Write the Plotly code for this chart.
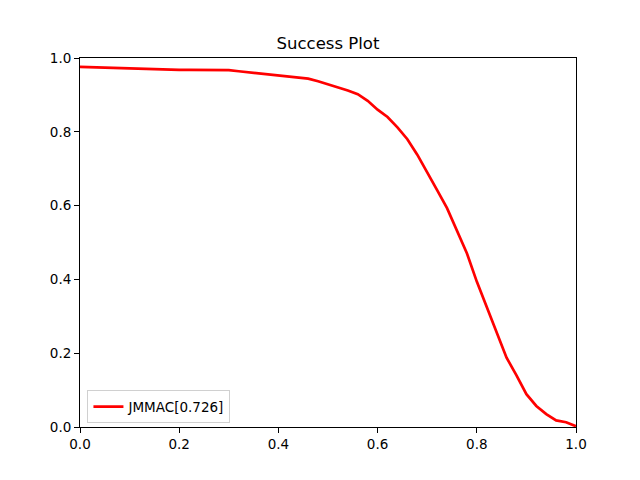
import plotly.graph_objects as go

# overlap threshold and success rate
thresholds = [i / 50 for i in range(51)]
success = [0.976, 0.975, 0.974, 0.973, 0.973, 0.972, 0.971, 0.970, 0.969, 0.969,
           0.968, 0.968, 0.968, 0.967, 0.967, 0.967, 0.964, 0.961, 0.958, 0.955,
           0.953, 0.951, 0.948, 0.944, 0.937, 0.929, 0.921, 0.912, 0.902, 0.884,
           0.860, 0.840, 0.812, 0.780, 0.738, 0.692, 0.642, 0.593, 0.532, 0.471,
           0.394, 0.326, 0.254, 0.188, 0.140, 0.089, 0.057, 0.035, 0.018, 0.013,
           0.002]
tracker_name = "JMMAC[0.726]"
tick_vals = [0, 0.2, 0.4, 0.6, 0.8, 1.0]
tick_text = ["0.0", "0.2", "0.4", "0.6", "0.8", "1.0"]

fig = go.Figure()
fig.add_trace(go.Scatter(x=thresholds, y=success, mode="lines", name=tracker_name,
                         line=dict(color="red", width=2.7)))

axis_style = dict(range=[0, 1], tickvals=tick_vals, ticktext=tick_text,
                  showgrid=False, zeroline=False, showline=True, linecolor="black",
                  linewidth=1, mirror=True, ticks="outside", ticklen=5,
                  tickcolor="black", tickfont=dict(size=13.5, color="black"))

# page body adds ~8px offset, so margins are shifted to compensate
fig.update_layout(
    width=640, height=480,
    margin=dict(l=72, r=72, t=50, b=61),
    paper_bgcolor="white", plot_bgcolor="white",
    font=dict(family="DejaVu Sans", color="black"),
    title=dict(text="Success Plot", x=0.5, xanchor="center", y=1 - 35 / 480,
               yanchor="middle", font=dict(size=16.5, color="black")),
    xaxis=axis_style, yaxis=axis_style,
    showlegend=True,
    legend=dict(x=0.015, y=0.01, xanchor="left", yanchor="bottom",
                bordercolor="#d0d0d0", borderwidth=1, bgcolor="white",
                font=dict(size=13.5, color="black")),
)

fig.write_html("out.html")
